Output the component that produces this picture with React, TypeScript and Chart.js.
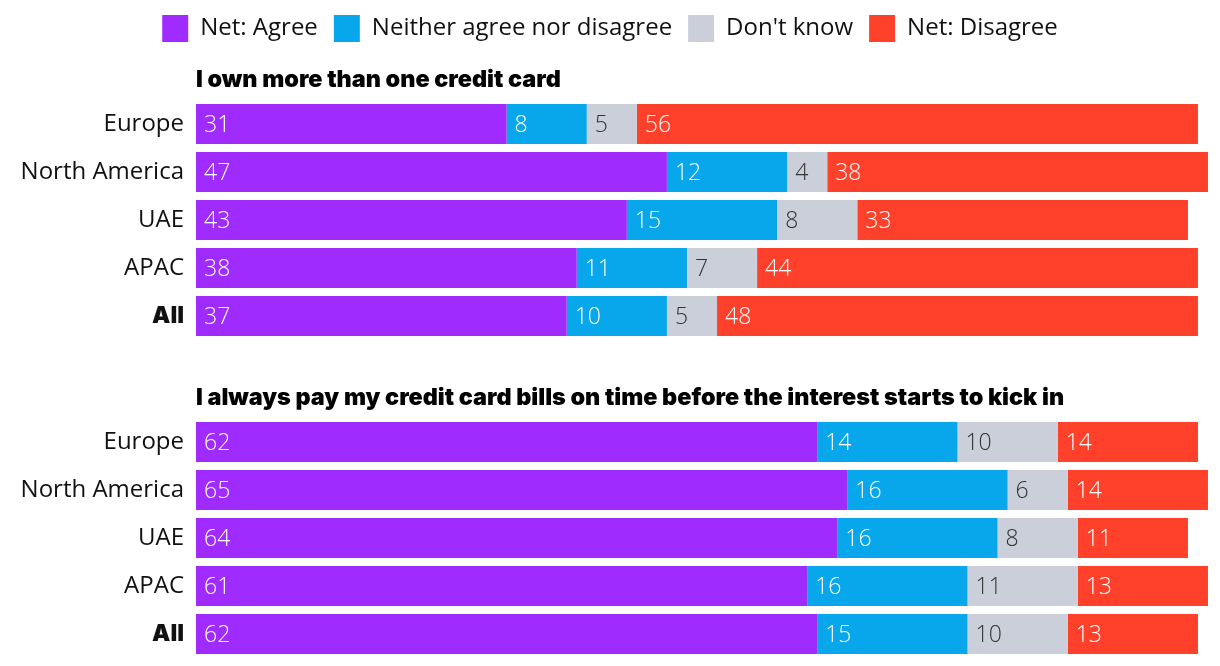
import React, { useEffect, useRef } from "react";
import { Chart, registerables } from "chart.js";

Chart.register(...registerables);

const seriesNames = ["Net: Agree", "Neither agree nor disagree", "Don't know", "Net: Disagree"];
const categories = ["Europe", "North America", "UAE", "APAC", "All"];

const title1 = "I own more than one credit card";
const q1Agree = [31, 47, 43, 38, 37];
const q1Neither = [8, 12, 15, 11, 10];
const q1DontKnow = [5, 4, 8, 7, 5];
const q1Disagree = [56, 38, 33, 44, 48];

const title2 = "I always pay my credit card bills on time before the interest starts to kick in";
const q2Agree = [62, 65, 64, 61, 62];
const q2Neither = [14, 16, 16, 16, 15];
const q2DontKnow = [10, 6, 8, 11, 10];
const q2Disagree = [14, 14, 11, 13, 13];

const colors = ["#A02BFE", "#08A6EA", "#CBCFD9", "#FF412C"];
const labelColors = ["#FFFFFF", "#FFFFFF", "#333333", "#FFFFFF"];

const FONT = "'Open Sans', 'Noto Sans', sans-serif";
const TITLE_FONT = "Inter, 'Open Sans', sans-serif";

const valueLabelPlugin = {
  id: "valueLabels",
  afterDatasetsDraw(chart: any) {
    const ctx = chart.ctx;
    ctx.save();
    ctx.font = `300 23px ${FONT}`;
    ctx.textAlign = "left";
    ctx.textBaseline = "middle";
    chart.data.datasets.forEach((ds: any, i: number) => {
      const meta = chart.getDatasetMeta(i);
      meta.data.forEach((bar: any, j: number) => {
        const p = bar.getProps(["x", "y", "base"], true);
        const left = Math.min(p.x, p.base);
        ctx.fillStyle = labelColors[i];
        ctx.fillText(String(ds.data[j]), left + 8, p.y + 1);
      });
    });
    ctx.restore();
  },
};

function BarBlock(props: {
  values: number[][];
  title: string;
  showLegend: boolean;
  width: number;
  height: number;
  titlePadTop: number;
  titlePadBottom: number;
  padTop: number;
  padBottom: number;
}) {
  const ref = useRef<HTMLCanvasElement | null>(null);
  useEffect(() => {
    if (!ref.current) return;
    const chart = new Chart(ref.current, {
      type: "bar",
      data: {
        labels: categories,
        datasets: props.values.map((vals, i) => ({
          label: seriesNames[i],
          data: vals,
          backgroundColor: colors[i],
          borderWidth: 0,
          categoryPercentage: 0.834,
          barPercentage: 1,
        })),
      },
      options: {
        indexAxis: "y",
        responsive: false,
        animation: false,
        layout: { padding: { top: props.padTop, left: 0, right: 0, bottom: props.padBottom } },
        scales: {
          x: {
            stacked: true,
            display: false,
            min: 0,
            max: 102.2,
          },
          y: {
            stacked: true,
            grid: { display: false, drawTicks: false },
            border: { display: false },
            afterFit: (scale: any) => {
              scale.width = 196;
              scale.paddingTop = 0;
              scale.paddingBottom = 0;
            },
            ticks: {
              padding: 12,
              color: "#111111",
              font: (c: any) =>
                c.tick && c.tick.label === "All"
                  ? { family: TITLE_FONT, size: 23, weight: "900" }
                  : { family: FONT, size: 24, weight: "400" },
            },
          },
        },
        plugins: {
          legend: {
            display: props.showLegend,
            position: "top",
            align: "center",
            labels: {
              boxWidth: 26,
              boxHeight: 27,
              padding: 16,
              color: "#111111",
              font: { family: FONT, size: 24 },
            },
          },
          title: {
            display: true,
            text: props.title,
            align: "start",
            fullSize: false,
            weight: 500,
            color: "#000000",
            font: { family: TITLE_FONT, size: 23.4, weight: "900" },
            padding: { top: props.titlePadTop, bottom: props.titlePadBottom },
          },
          tooltip: { enabled: false },
        },
      } as any,
      plugins: [valueLabelPlugin],
    });
    return () => chart.destroy();
  }, []);
  return <canvas ref={ref} width={props.width} height={props.height} style={{ display: "block" }} />;
}

export default function App() {
  return (
    <div style={{ position: "absolute", left: 0, top: 0, width: 1220, height: 666, background: "#fff" }}>
      <BarBlock
        values={[q1Agree, q1Neither, q1DontKnow, q1Disagree]}
        title={title1}
        showLegend={true}
        width={1220}
        height={340}
        titlePadTop={14}
        titlePadBottom={6}
        padTop={-1}
        padBottom={0}
      />
      <BarBlock
        values={[q2Agree, q2Neither, q2DontKnow, q2Disagree]}
        title={title2}
        showLegend={false}
        width={1220}
        height={326}
        titlePadTop={44}
        titlePadBottom={6}
        padTop={0}
        padBottom={8}
      />
    </div>
  );
}
